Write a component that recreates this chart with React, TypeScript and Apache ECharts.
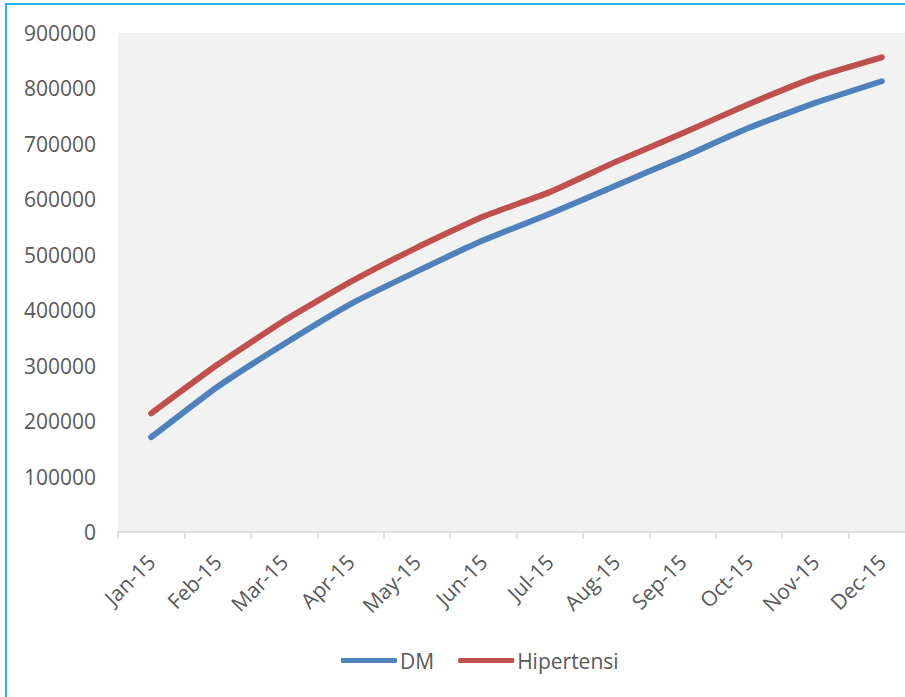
import React, { useEffect, useRef } from "react";
import * as echarts from "echarts";

const months = ["Jan-15", "Feb-15", "Mar-15", "Apr-15", "May-15", "Jun-15", "Jul-15", "Aug-15", "Sep-15", "Oct-15", "Nov-15", "Dec-15"];
const dmValues = [171000, 262000, 339000, 411000, 470000, 526000, 574000, 625000, 676000, 729000, 774000, 813000];
const hipertensiValues = [214000, 302000, 381000, 451000, 513000, 569000, 613000, 668000, 719000, 772000, 820000, 856000];
const seriesNames = ["DM", "Hipertensi"];
const seriesColors = ["#4f81bd", "#c0504d"];

export default function App() {
  const ref = useRef<HTMLDivElement>(null);
  useEffect(() => {
    if (!ref.current) return;
    const chart = echarts.init(ref.current, null, { renderer: "svg" });
    const font = "'Open Sans', 'Noto Sans', sans-serif";
    chart.setOption({
      animation: false,
      textStyle: { fontFamily: font },
      graphic: [
        {
          type: "rect",
          shape: { x: 6, y: 4, width: 2000, height: 2000 },
          style: { fill: "none", stroke: "#29b5ea", lineWidth: 2 },
          z: 100,
        },
      ],
      grid: {
        left: 118,
        top: 33,
        width: 797,
        height: 499,
        show: true,
        backgroundColor: "#f2f2f2",
        borderWidth: 0,
        containLabel: false,
        outerBoundsMode: "none",
      },
      legend: {
        top: 645,
        left: 336,
        data: seriesNames,
        icon: "roundRect",
        itemWidth: 56,
        itemHeight: 5,
        itemGap: 24,
        textStyle: { fontFamily: font, fontSize: 21, color: "#595959", padding: [0, 0, 0, -2] },
      },
      xAxis: {
        type: "category",
        data: months,
        boundaryGap: true,
        axisLine: { show: true, lineStyle: { color: "#d9d9d9", width: 1.5 } },
        axisTick: { show: true, length: 7, lineStyle: { color: "#d9d9d9", width: 1.5 } },
        axisLabel: { rotate: 45, margin: 26, fontSize: 21, color: "#595959", fontFamily: font, interval: 0 },
        splitLine: { show: false },
      },
      yAxis: {
        type: "value",
        min: 0,
        max: 900000,
        interval: 100000,
        axisLine: { show: false },
        axisTick: { show: false },
        splitLine: { show: false },
        axisLabel: {
          fontSize: 21,
          color: "#595959",
          fontFamily: font,
          margin: 22,
          formatter: (v: number) => String(v),
        },
      },
      series: [
        {
          name: seriesNames[0],
          type: "line",
          data: dmValues,
          smooth: 0.15,
          symbol: "none",
          color: seriesColors[0],
          lineStyle: { width: 6, color: seriesColors[0], cap: "round", join: "round" },
        },
        {
          name: seriesNames[1],
          type: "line",
          data: hipertensiValues,
          smooth: 0.15,
          symbol: "none",
          color: seriesColors[1],
          lineStyle: { width: 6, color: seriesColors[1], cap: "round", join: "round" },
        },
      ],
    });
    return () => chart.dispose();
  }, []);
  return (
    <div
      ref={ref}
      style={{ position: "fixed", left: 0, top: 0, width: 905, height: 697, background: "#ffffff" }}
    />
  );
}
